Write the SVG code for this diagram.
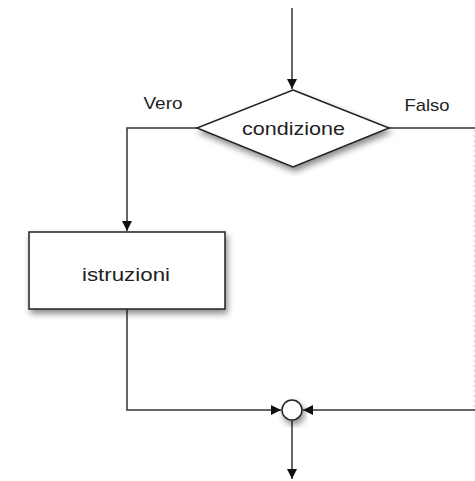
<svg xmlns="http://www.w3.org/2000/svg" width="475" height="481" viewBox="0 0 475 481">
  <defs>
    <marker id="arrow" viewBox="0 0 10 10" refX="10" refY="5" markerWidth="10" markerHeight="10" markerUnits="userSpaceOnUse" orient="auto">
      <path d="M0,0 L10,5 L0,10 z" fill="#111"/>
    </marker>
    <filter id="shadow" x="-20%" y="-20%" width="150%" height="160%">
      <feDropShadow dx="2" dy="4" stdDeviation="3" flood-color="#000" flood-opacity="0.45"/>
    </filter>
  </defs>
  <style>
    .shape { fill: #fff; stroke: #222; stroke-width: 1.5; filter: url(#shadow); }
    .line { fill: none; stroke: #333; stroke-width: 1.5; }
    .faint { fill: none; stroke: #ccc; stroke-width: 1; stroke-dasharray: 2 3; }
    .label { font-family: "Liberation Sans", Arial, sans-serif; fill: #222; text-anchor: middle; }
  </style>
  <rect width="475" height="481" fill="#fff"/>

  <g id="connectors">
    <line class="line" x1="292" y1="8" x2="292" y2="89" marker-end="url(#arrow)"/>
    <polyline class="line" points="197,128 127,128 127,231" marker-end="url(#arrow)"/>
    <polyline class="line" points="389,128 475,128"/>
    <line class="faint" x1="474" y1="130" x2="474" y2="408"/>
    <polyline class="line" points="127,309 127,410 281,410" marker-end="url(#arrow)"/>
    <line class="line" x1="475" y1="410" x2="303" y2="410" marker-end="url(#arrow)"/>
    <line class="line" x1="292" y1="421" x2="292" y2="479" marker-end="url(#arrow)"/>
  </g>

  <g id="decision">
    <polygon class="shape" points="293,90 389,128 293,167 197,128"/>
    <text class="label" x="293.5" y="135" font-size="19" textLength="103" lengthAdjust="spacingAndGlyphs">condizione</text>
  </g>

  <g id="label-vero">
    <text class="label" x="163" y="109" font-size="16" textLength="39" lengthAdjust="spacingAndGlyphs">Vero</text>
  </g>
  <g id="label-falso">
    <text class="label" x="427" y="110.5" font-size="17" textLength="45" lengthAdjust="spacingAndGlyphs">Falso</text>
  </g>

  <g id="statements">
    <rect class="shape" x="29" y="232" width="196" height="77"/>
    <text class="label" x="126" y="281" font-size="19" textLength="88" lengthAdjust="spacingAndGlyphs">istruzioni</text>
  </g>

  <g id="merge">
    <circle class="shape" cx="292" cy="410" r="10"/>
  </g>
</svg>
